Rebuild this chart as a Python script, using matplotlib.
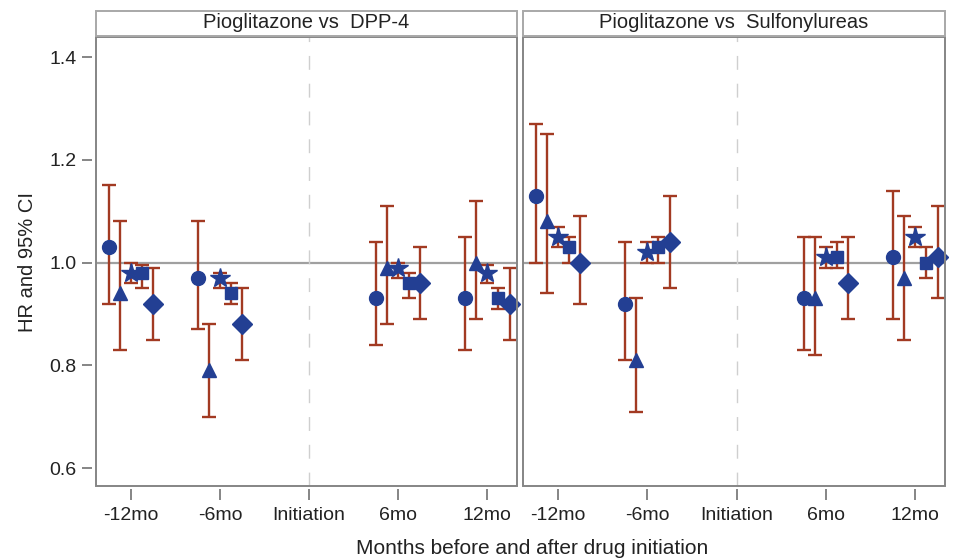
import numpy as np
import matplotlib
matplotlib.use("Agg")
import matplotlib.pyplot as plt
from matplotlib.patches import Rectangle

plt.rcParams['font.family'] = ['Liberation Sans', 'DejaVu Sans']

# data
panels = ["Pioglitazone vs  DPP-4", "Pioglitazone vs  Sulfonylureas"]
months = [-12, -6, 6, 12]
tick_pos = [-12, -6, 0, 6, 12]
tick_labels = ["-12mo", "-6mo", "Initiation", "6mo", "12mo"]
markers = ['o', '^', '*', 's', 'D']

# DPP-4 panel: hazard ratio, lower, upper (one value per month)
dpp_circle = [[1.03, 0.97, 0.93, 0.93], [0.92, 0.87, 0.84, 0.83], [1.15, 1.08, 1.04, 1.05]]
dpp_tri = [[0.94, 0.79, 0.99, 1.00], [0.83, 0.70, 0.88, 0.89], [1.08, 0.88, 1.11, 1.12]]
dpp_star = [[0.98, 0.97, 0.99, 0.98], [0.96, 0.95, 0.97, 0.96], [1.00, 0.98, 1.00, 0.995]]
dpp_square = [[0.98, 0.94, 0.96, 0.93], [0.95, 0.92, 0.93, 0.91], [0.995, 0.96, 0.98, 0.95]]
dpp_diamond = [[0.92, 0.88, 0.96, 0.92], [0.85, 0.81, 0.89, 0.85], [0.99, 0.95, 1.03, 0.99]]

# Sulfonylureas panel
su_circle = [[1.13, 0.92, 0.93, 1.01], [1.00, 0.81, 0.83, 0.89], [1.27, 1.04, 1.05, 1.14]]
su_tri = [[1.08, 0.81, 0.93, 0.97], [0.94, 0.71, 0.82, 0.85], [1.25, 0.93, 1.05, 1.09]]
su_star = [[1.05, 1.02, 1.01, 1.05], [1.03, 1.00, 0.99, 1.03], [1.07, 1.04, 1.03, 1.07]]
su_square = [[1.03, 1.03, 1.01, 1.00], [1.00, 1.00, 0.99, 0.97], [1.05, 1.05, 1.04, 1.03]]
su_diamond = [[1.00, 1.04, 0.96, 1.01], [0.92, 0.95, 0.89, 0.93], [1.09, 1.13, 1.05, 1.11]]

series = [[dpp_circle, dpp_tri, dpp_star, dpp_square, dpp_diamond],
          [su_circle, su_tri, su_star, su_square, su_diamond]]

offsets = [-1.5, -0.75, 0, 0.75, 1.5]
msizes = [10, 10.5, 14.5, 9, 10.5]
blue = '#233f93'
red = '#a23a22'
grey = '#858585'

fig = plt.figure(figsize=(9.55, 5.6), dpi=100)
lefts = [96 / 955, 523 / 955]
widths = [421 / 955, 422 / 955]
bottom = 1 - 486 / 560
height = (486 - 37) / 560

for p in range(2):
    ax = fig.add_axes([lefts[p], bottom, widths[p], height])
    ax.set_xlim(-14.35, 14.0)
    ax.set_ylim(0.565, 1.439)
    ax.axhline(1.0, color='#a0a0a0', lw=1.6, zorder=1)
    ax.axvline(0, color='#cfcfcf', lw=1.0, dashes=(10, 10), zorder=1)
    for k in range(5):
        hr, lo, hi = [np.array(v) for v in series[p][k]]
        x = np.array(months) + offsets[k]
        ax.errorbar(x, hr, yerr=[hr - lo, hi - hr], fmt='none', ecolor=red,
                    elinewidth=1.7, capsize=4.8, capthick=1.7, zorder=2)
        ax.plot(x, hr, linestyle='none', marker=markers[k], ms=msizes[k],
                color=blue, mec=blue, zorder=3, clip_on=False)
    for s in ax.spines.values():
        s.set_visible(False)
    ax.add_patch(Rectangle((0, 0), 1, 1, transform=ax.transAxes, fill=False,
                           edgecolor=grey, lw=1.4, clip_on=False, zorder=5))
    ax.spines['bottom'].set_position(('outward', 2))
    ax.spines['left'].set_position(('outward', 3))
    ax.set_xticks(tick_pos)
    ax.set_xticklabels(tick_labels)
    ax.tick_params(axis='x', length=8, width=1.4, color=grey, labelsize=14,
                   pad=5, labelcolor='#222222')
    if p == 0:
        ax.set_yticks([0.6, 0.8, 1.0, 1.2, 1.4])
        ax.set_yticklabels(["0.6", "0.8", "1.0", "1.2", "1.4"])
        ax.tick_params(axis='y', length=7, width=1.4, color=grey, labelsize=14,
                       pad=4, labelcolor='#222222')
        ax.set_ylabel("HR and 95% CI", fontsize=14.5, labelpad=9, color='#222222')
    else:
        ax.set_yticks([])
    # strip header
    sy0 = 1 - 35.7 / 560
    fig.patches.append(Rectangle((lefts[p], sy0), widths[p], 25 / 560,
                                 transform=fig.transFigure, facecolor='white',
                                 edgecolor='#a8a8a8', lw=1.4))
    fig.text(lefts[p] + widths[p] / 2, 1 - 23 / 560, panels[p], ha='center',
             va='center', fontsize=14.5, color='#222222')

fig.text(532 / 955, 1 - 549 / 560, "Months before and after drug initiation",
         ha='center', va='center', fontsize=15, color='#222222')

fig.savefig("out.png", dpi=100)
